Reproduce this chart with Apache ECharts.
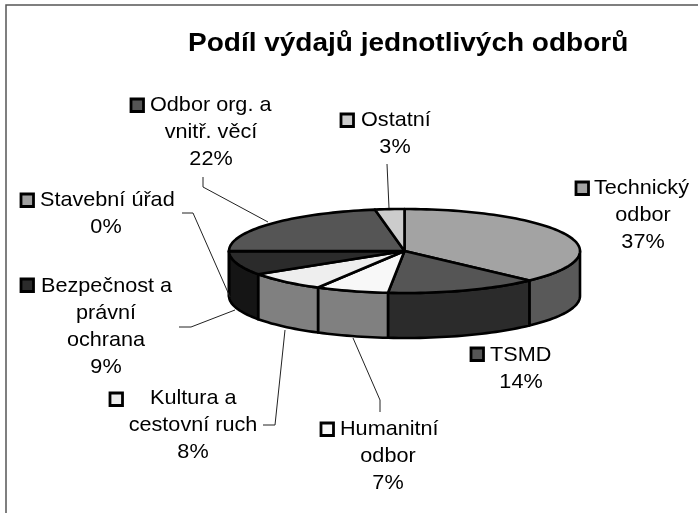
<!DOCTYPE html>
<html>
<head>
<meta charset="utf-8">
<style>html,body{margin:0;padding:0;background:#fff}#c{width:698px;height:513px}</style>
<script src="https://cdn.jsdelivr.net/npm/echarts@6/dist/echarts.min.js"></script>
</head>
<body>
<div id="c"></div>
<script>
var titleText = 'Podíl výdajů jednotlivých odborů';
var categories = ['Technický\nodbor', 'TSMD', 'Humanitní\nodbor', 'Kultura a\ncestovní ruch', 'Bezpečnost a\nprávní\nochrana', 'Stavební úřad', 'Odbor org. a\nvnitř. věcí', 'Ostatní'];
var shares = [37.4, 14.1, 6.7, 7.5, 9.2, 0.1, 22.3, 2.7];

var topColors = ['#a3a3a3', '#555555', '#f8f8f8', '#eeeeee', '#2b2b2b', '#a0a0a0', '#555555', '#cccccc'];
var sideColors = ['#595959', '#2b2b2b', '#808080', '#808080', '#151515', '#707070', '#2b2b2b', '#8f8f8f'];

var pie = { cx: 404.5, cy: 251, rx: 175.5, ry: 42, depth: 45 };
var labelFont = '21px "Liberation Sans", Arial, sans-serif';
var lineStep = 27;
var labelStretch = 1.03;
var labelLayout = [
  { key: [575, 181], first: [594, 188], rest: 643 },
  { key: [470, 347], first: [490, 355], rest: 521 },
  { key: [320, 422], first: [340, 429], rest: 388 },
  { key: [109, 392], first: [150, 398], rest: 193 },
  { key: [20, 278], first: [41, 286], rest: 106 },
  { key: [20, 193], first: [40, 200], rest: 106 },
  { key: [130, 98], first: [150, 105], rest: 211 },
  { key: [340, 113], first: [361, 120], rest: 395 }
];
var leaderLines = [
  null,
  null,
  [[353, 338], [380, 400], [380, 412]],
  [[263, 425], [275, 425], [285, 330]],
  [[179, 327], [191, 327], [235, 310]],
  [[182, 213], [193, 213], [230, 297]],
  [[203, 177], [203, 187], [268, 222]],
  [[387, 164], [389, 208]]
];

function pt(share, dy) {
  var a = share / 100 * 2 * Math.PI;
  return [pie.cx + pie.rx * Math.sin(a), pie.cy - pie.ry * Math.cos(a) + (dy || 0)];
}
function arc(from, to, dy) {
  var pts = [], n = Math.max(2, Math.ceil((to - from) * 2));
  for (var i = 0; i <= n; i++) pts.push(pt(from + (to - from) * i / n, dy));
  return pts;
}
var startShares = shares.reduce(function (acc, v, i) { acc.push(i ? acc[i - 1] + shares[i - 1] : 0); return acc; }, []);

function renderSlice(params, api) {
  var i = params.dataIndex, value = api.value(0), from = startShares[i], to = from + value;
  var children = [];
  var stroke = { stroke: '#000', lineWidth: 2.6, lineJoin: 'round' };
  var sf = Math.max(from, 25), st = Math.min(to, 75);
  if (st > sf) {
    var upper = arc(sf, st, 0), lower = arc(sf, st, pie.depth).reverse();
    children.push({ type: 'polygon', z2: 1, shape: { points: upper.concat(lower) },
      style: Object.assign({ fill: sideColors[i] }, stroke) });
  }
  if (to > from) {
    children.push({ type: 'polygon', z2: 2, shape: { points: [[pie.cx, pie.cy]].concat(arc(from, to, 0)) },
      style: Object.assign({ fill: topColors[i] }, stroke) });
  }
  if (leaderLines[i]) {
    children.push({ type: 'polyline', z2: 3, shape: { points: leaderLines[i] },
      style: { fill: null, stroke: '#222', lineWidth: 1 } });
  }
  var l = labelLayout[i];
  children.push({ type: 'rect', z2: 4, shape: { x: l.key[0] + 1, y: l.key[1] + 1, width: 12.5, height: 12.5 },
    style: { fill: topColors[i], stroke: '#000', lineWidth: 2.8 } });
  var lines = categories[i].split('\n').concat([Math.round(value) + '%']);
  lines.forEach(function (t, k) {
    children.push({ type: 'text', z2: 5, x: k ? l.rest : l.first[0], y: l.first[1] + k * lineStep, scaleX: labelStretch,
      style: { text: t, x: 0, y: 0, textAlign: k ? 'center' : 'left', textVerticalAlign: 'middle', font: labelFont, fill: '#000' } });
  });
  return { type: 'group', children: children };
}

var chart = echarts.init(document.getElementById('c'));
chart.setOption({
  animation: false,
  backgroundColor: '#fff',
  graphic: [
    { type: 'polyline', silent: true, shape: { points: [[6, 513], [6, 5], [698, 5]] }, style: { fill: null, stroke: '#555', lineWidth: 1.5 } },
    { type: 'text', silent: true, x: 188, y: 44, scaleX: 1.12,
      style: { text: titleText, x: 0, y: 0, textAlign: 'left', textVerticalAlign: 'middle', font: 'bold 25px "Liberation Sans", Arial, sans-serif', fill: '#000' } }
  ],
  series: [{ type: 'custom', coordinateSystem: 'none', silent: true, renderItem: renderSlice, data: shares }]
});
</script>
</body>
</html>
